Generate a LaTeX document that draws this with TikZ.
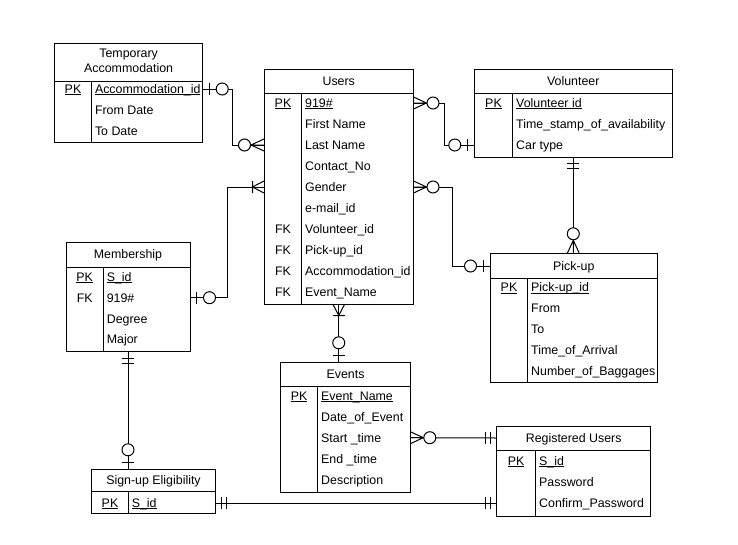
\documentclass[tikz,border=0pt]{standalone}
\usepackage{fontspec}
\setmainfont{Liberation Sans}

% underlined key text with a thin rule just below the baseline
\newcommand\ulk[1]{\setbox0=\hbox{#1}\rlap{\rule[-1.8pt]{\wd0}{0.8pt}}\box0}

% entity table: name, x1, y1, x2, y2, header bottom, divider x, title, title y
\newcommand\erent[9]{%
  \node[ebox, minimum width={#4-#2}, minimum height={#5-#3}, anchor=north west] (#1) at (#2,#3) {};
  \draw[eline] (#2,#6) -- (#4,#6) (#7,#6) -- (#7,#5);
  \node[etitle] (#1-t) at ({(#2+#4)/2},#9) {#8};
}
% table row: name, key x, attribute x, y, key text, attribute text
\newcommand\erow[6]{%
  \node[keytxt] (#1k) at (#2,#4) {#5};
  \node[attr] (#1) at (#3,#4) {#6};
}
% cardinality marks, drawn outward along local +x from the entity edge
\newcommand\ermark[3]{\begin{scope}[shift={#1},#2]#3\end{scope}}
\newcommand\mkzo{\draw[rel] (6.5,-6) -- (6.5,6); \draw[rel,fill=white] (19.5,0) circle[radius=6];}
\newcommand\mkoo{\draw[rel] (6.5,-6) -- (6.5,6) (11.5,-6) -- (11.5,6);}
\newcommand\mkzm{\draw[rel] (0,-6) -- (13,0) -- (0,6) (0,0) -- (13,0); \draw[rel,fill=white] (19.5,0) circle[radius=6];}
\newcommand\mkom{\draw[rel] (0,-6) -- (11.5,0) -- (0,6) (11.5,-6) -- (11.5,6);}

\begin{document}
\begin{tikzpicture}[x=1pt,y=-1pt,
  eline/.style={line width=1pt, black},
  ebox/.style={draw, line width=1pt, inner sep=0pt, outer sep=0pt, rectangle},
  etitle/.style={inner sep=0pt, text height=8.8pt, text depth=0pt, font=\fontsize{12.4}{14}\selectfont},
  attr/.style={anchor=west, inner sep=0pt, text height=8.8pt, text depth=0pt, font=\fontsize{12.4}{14}\selectfont},
  keytxt/.style={inner sep=0pt, text height=8.8pt, text depth=0pt, font=\fontsize{12.4}{14}\selectfont},
  rel/.style={line width=1pt, black, line join=miter},
  dirR/.style={x={(1pt,0pt)},y={(0pt,1pt)}},
  dirL/.style={x={(-1pt,0pt)},y={(0pt,1pt)}},
  dirD/.style={x={(0pt,-1pt)},y={(1pt,0pt)}},
  dirU/.style={x={(0pt,1pt)},y={(1pt,0pt)}},
]
\useasboundingbox (0,0) rectangle (738,544);

% Temporary Accommodation
\node[ebox, minimum width=148.2, minimum height=99.2, anchor=north west] (tacc) at (54.5,43.5) {};
\draw[eline] (54.5,81) -- (202.7,81) (91.7,81) -- (91.7,142.7);
\node[inner sep=0pt, align=center, font=\fontsize{12.4}{15}\selectfont] (tacc-t) at (128.6,60.5) {Temporary\\Accommodation};
\erow{ta1}{73}{94.8}{89}{\ulk{PK}}{\ulk{Accommodation\_id}}
\erow{ta2}{73}{94.8}{110.5}{}{From Date}
\erow{ta3}{73}{94.8}{131}{}{To Date}

% Users
\erent{users}{264}{69.5}{413.5}{304}{93}{301.7}{Users}{81}
\erow{u1}{283}{305}{103}{\ulk{PK}}{\ulk{919\#}}
\erow{u2}{283}{305}{124}{}{First Name}
\erow{u3}{283}{305}{145}{}{Last Name}
\erow{u4}{283}{305}{166}{}{Contact\_No}
\erow{u5}{283}{305}{187}{}{Gender}
\erow{u6}{283}{305}{208}{}{e-mail\_id}
\erow{u7}{283}{305}{229}{FK}{Volunteer\_id}
\erow{u8}{283}{305}{250}{FK}{Pick-up\_id}
\erow{u9}{283}{305}{271}{FK}{Accommodation\_id}
\erow{u10}{283}{305}{292}{FK}{Event\_Name}

% Volunteer
\erent{vol}{474.3}{69.5}{672.3}{157}{93}{512.7}{Volunteer}{81}
\erow{v1}{493.5}{516}{103}{\ulk{PK}}{\ulk{Volunteer id}}
\erow{v2}{493.5}{516}{124}{}{Time\_stamp\_of\_availability}
\erow{v3}{493.5}{516}{145}{}{Car type}

% Membership
\erent{memb}{66}{242}{190}{351.7}{267}{103.3}{Membership}{254.5}
\erow{m1}{84.7}{106.6}{276.7}{\ulk{PK}}{\ulk{S\_id}}
\erow{m2}{84.7}{106.6}{297.7}{FK}{919\#}
\erow{m3}{84.7}{106.6}{318.7}{}{Degree}
\erow{m4}{84.7}{106.6}{339.5}{}{Major}

% Pick-up
\erent{pick}{490}{253.3}{657.7}{382.7}{278.3}{527.7}{Pick-up}{266}
\erow{p1}{509}{531}{287.5}{\ulk{PK}}{\ulk{Pick-up\_id}}
\erow{p2}{509}{531}{308.5}{}{From}
\erow{p3}{509}{531}{329.5}{}{To}
\erow{p4}{509}{531}{350.5}{}{Time\_of\_Arrival}
\erow{p5}{509}{531}{371.5}{}{Number\_of\_Baggages}

% Events
\erent{events}{280.7}{362.3}{410.3}{492}{386.3}{317.7}{Events}{374}
\erow{e1}{299.2}{321}{395.7}{\ulk{PK}}{\ulk{Event\_Name}}
\erow{e2}{299.2}{321}{416.7}{}{Date\_of\_Event}
\erow{e3}{299.2}{321}{437.7}{}{Start \_time}
\erow{e4}{299.2}{321}{458.7}{}{End \_time}
\erow{e5}{299.2}{321}{479.7}{}{Description}

% Sign-up Eligibility
\erent{sign}{91.7}{469.3}{215.3}{513.3}{491.7}{128.3}{Sign-up Eligibility}{480.5}
\erow{s1}{110}{131.6}{503}{\ulk{PK}}{\ulk{S\_id}}

% Registered Users
\erent{reg}{496.7}{426}{650.7}{516.7}{450}{535.7}{Registered Users}{438}
\erow{r1}{516.2}{539}{461}{\ulk{PK}}{\ulk{S\_id}}
\erow{r2}{516.2}{539}{482}{}{Password}
\erow{r3}{516.2}{539}{503}{}{Confirm\_Password}

% relationship lines
\draw[rel] (tacc.east |- ta1) -- ++(30,0) |- (users.west |- u3);
\draw[rel] (users.east |- u1) -- ++(31,0) |- (vol.west |- v3);
\draw[rel] (users.east |- u5) -- ++(38.5,0) |- (pick.west |- pick-t);
\draw[rel] (vol.south) -- (vol.south |- pick.north);
\draw[rel] (users.west |- u5) -- ++(-36.5,0) |- (memb.east |- m2);
\draw[rel] (users.south) -- (users.south |- events.north);
\draw[rel] (events.east |- e3) -- (reg.west |- reg-t);
\draw[rel] (memb.south) -- (memb.south |- sign.north);
\draw[rel] (sign.east |- s1) -- (reg.west |- r3);

% cardinality marks
\ermark{(tacc.east |- ta1)}{dirR}{\mkzo}
\ermark{(users.west |- u3)}{dirL}{\mkzm}
\ermark{(users.east |- u1)}{dirR}{\mkzm}
\ermark{(vol.west |- v3)}{dirL}{\mkzo}
\ermark{(users.east |- u5)}{dirR}{\mkzm}
\ermark{(pick.west |- pick-t)}{dirL}{\mkzo}
\ermark{(vol.south)}{dirD}{\mkoo}
\ermark{(vol.south |- pick.north)}{dirU}{\mkzm}
\ermark{(users.west |- u5)}{dirL}{\mkom}
\ermark{(memb.east |- m2)}{dirR}{\mkzo}
\ermark{(users.south)}{dirD}{\mkom}
\ermark{(users.south |- events.north)}{dirU}{\mkzo}
\ermark{(events.east |- e3)}{dirR}{\mkzm}
\ermark{(reg.west |- reg-t)}{dirL}{\mkoo}
\ermark{(memb.south)}{dirD}{\mkoo}
\ermark{(memb.south |- sign.north)}{dirU}{\mkzo}
\ermark{(sign.east |- s1)}{dirR}{\mkoo}
\ermark{(reg.west |- r3)}{dirL}{\mkoo}
\end{tikzpicture}
\end{document}
